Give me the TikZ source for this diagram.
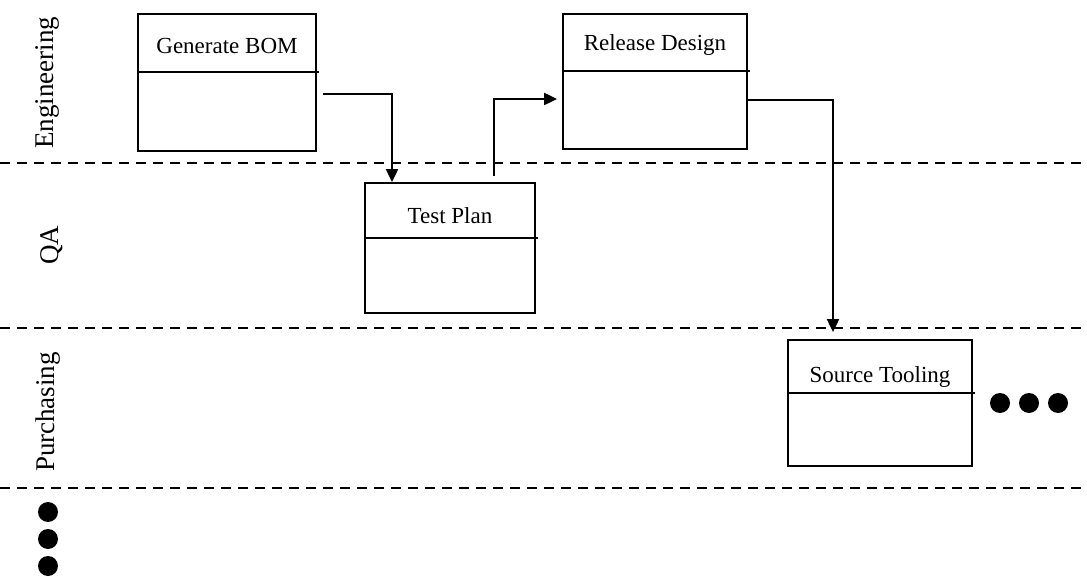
\documentclass[tikz,border=0pt]{standalone}
\usepackage{fontspec}
\setmainfont{Liberation Serif}
\usetikzlibrary{arrows.meta}
\begin{document}
\begin{tikzpicture}[x=1pt,y=-1pt,
  box/.style={draw,line width=1.8pt,inner sep=0pt},
  ttl/.style={anchor=base,inner sep=0pt,font=\fontsize{23}{27}\selectfont},
  lane/.style={anchor=base,rotate=90,inner sep=0pt,font=\fontsize{27}{31}\selectfont},
  sep/.style={line width=1.8pt,dash pattern=on 10pt off 7pt},
  div/.style={line width=1.6pt},
  arr/.style={line width=2pt,-{Triangle[length=13pt,width=12pt]}},
  dot/.style={fill=black}]
\useasboundingbox (0,0) rectangle (1087,577);
% lanes
\draw[sep] (0,163) -- (1087,163);
\draw[sep] (0,328) -- (1087,328);
\draw[sep] (0,488) -- (1087,488);
\node[lane] (leng) at (53,83) {Engineering};
\node[lane] (lqa) at (58,245) {QA};
\node[lane] (lpur) at (54,412) {Purchasing};
% boxes
\node[box,minimum width=178pt,minimum height=137pt] (bom) at (227,82.5) {};
\draw[div] (bom.west |- 0,72) -- ([xshift=2pt]bom.east |- 0,72);
\node[ttl] (bomt) at (227,54) {Generate BOM};

\node[box,minimum width=170pt,minimum height=130pt] (tp) at (450,248) {};
\draw[div] (tp.west |- 0,238) -- ([xshift=2pt]tp.east |- 0,238);
\node[ttl] (tpt) at (450,224) {Test Plan};

\node[box,minimum width=184pt,minimum height=135pt] (rd) at (655,81.5) {};
\draw[div] (rd.west |- 0,71) -- ([xshift=2pt]rd.east |- 0,71);
\node[ttl] (rdt) at (655,51) {Release Design};

\node[box,minimum width=184pt,minimum height=126pt] (st) at (880,403) {};
\draw[div] (st.west |- 0,393) -- ([xshift=2pt]st.east |- 0,393);
\node[ttl] (stt) at (880,382) {Source Tooling};
% connectors
\draw[arr] ([xshift=6pt]bom.east |- 0,94) -| ([xshift=-58pt]tp.north);
\draw[arr] ([xshift=44pt,yshift=6pt]tp.north) |- ([xshift=-5pt]rd.west |- 0,99);
\draw[arr] ([xshift=-2pt]rd.east |- 0,100) -| ([xshift=-47pt,yshift=7pt]st.north);
% ellipsis dots
\fill[dot] (1000,403) circle (10);
\fill[dot] (1029,403) circle (10);
\fill[dot] (1058,403) circle (10);
\fill[dot] (48,512) circle (10);
\fill[dot] (48,539) circle (10);
\fill[dot] (48,566) circle (10);
\end{tikzpicture}
\end{document}
